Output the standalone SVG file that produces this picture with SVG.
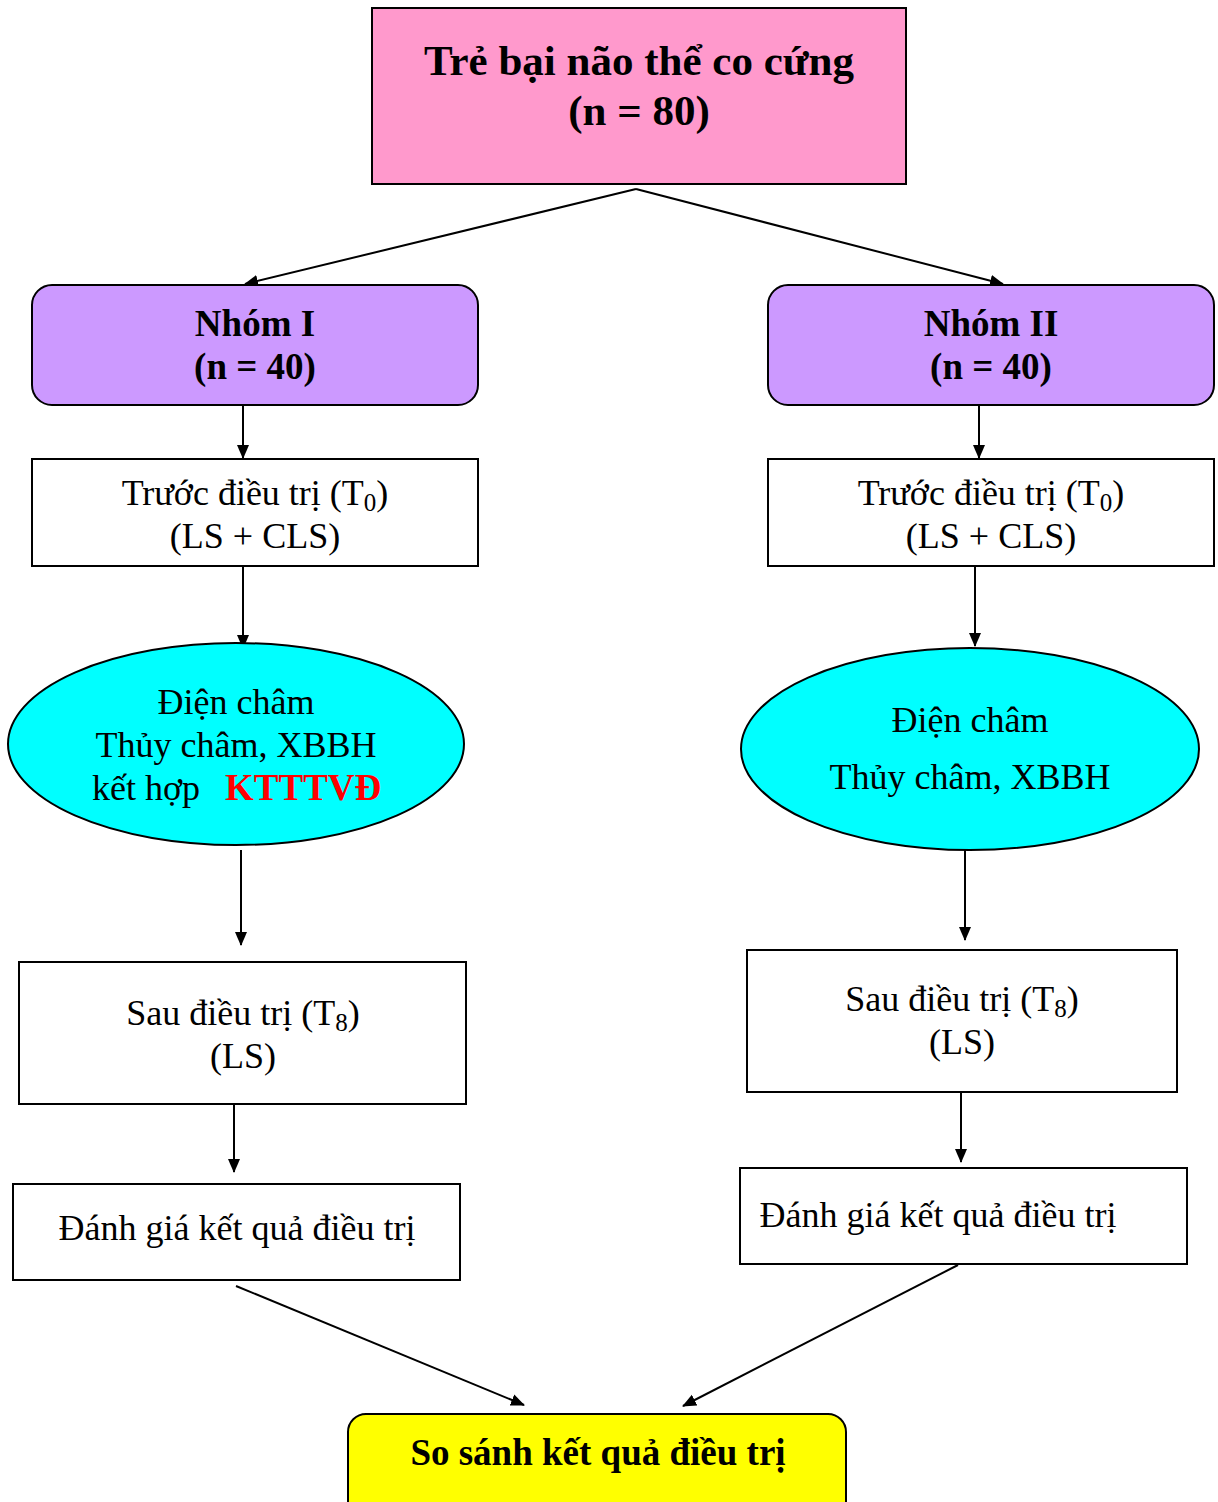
<svg xmlns="http://www.w3.org/2000/svg" width="1218" height="1502" viewBox="0 0 1218 1502">
<defs>
<style>
.box{stroke:#000;stroke-width:2}
.t{font-family:"Liberation Serif","Times New Roman",serif;font-size:36px;text-anchor:middle;fill:#000}
.b{font-weight:bold;font-size:37px}
.big{font-size:43px}
.red{fill:#FF0000}
.sub{font-size:25px}
.ln{stroke:#000;stroke-width:2;fill:none;marker-end:url(#ah)}
</style>
<marker id="ah" viewBox="0 0 14 14" refX="13" refY="7" markerWidth="14" markerHeight="14" markerUnits="userSpaceOnUse" orient="auto">
<path d="M0,1 L14,7 L0,13 z" fill="#000"/>
</marker>
</defs>
<rect width="1218" height="1502" fill="#fff"/>
<g id="connectors">
<path class="ln" d="M636,189 L245,284"/>
<path class="ln" d="M636,189 L1003,284"/>
<path class="ln" d="M243,405 L243,458"/>
<path class="ln" d="M979,405 L979,458"/>
<path class="ln" d="M243,566 L243,648"/>
<path class="ln" d="M975,563 L975,646"/>
<path class="ln" d="M241,850 L241,945"/>
<path class="ln" d="M965,850 L965,940"/>
<path class="ln" d="M234,1100 L234,1172"/>
<path class="ln" d="M961,1090 L961,1162"/>
<path class="ln" d="M236,1286 L524,1405"/>
<path class="ln" d="M958,1265 L683,1406"/>
</g>
<g id="top">
<rect class="box" x="372" y="8" width="534" height="176" fill="#FF99CC"/>
<text class="t b big" x="639" y="75">Trẻ bại não thể co cứng</text>
<text class="t b big" x="639" y="125">(n = 80)</text>
</g>
<g id="nhom1">
<rect class="box" x="32" y="285" width="446" height="120" rx="20" fill="#CC99FF"/>
<text class="t b" x="255" y="336">Nhóm I</text>
<text class="t b" x="255" y="379">(n = 40)</text>
</g>
<g id="nhom2">
<rect class="box" x="768" y="285" width="446" height="120" rx="20" fill="#CC99FF"/>
<text class="t b" x="991" y="336">Nhóm II</text>
<text class="t b" x="991" y="379">(n = 40)</text>
</g>
<g id="truoc1">
<rect class="box" x="32" y="459" width="446" height="107" fill="#fff"/>
<text class="t" x="255" y="505">Trước điều trị (T<tspan class="sub" dy="6">0</tspan><tspan dy="-6">)</tspan></text>
<text class="t" x="255" y="548">(LS + CLS)</text>
</g>
<g id="truoc2">
<rect class="box" x="768" y="459" width="446" height="107" fill="#fff"/>
<text class="t" x="991" y="505">Trước điều trị (T<tspan class="sub" dy="6">0</tspan><tspan dy="-6">)</tspan></text>
<text class="t" x="991" y="548">(LS + CLS)</text>
</g>
<g id="dien1">
<ellipse class="box" cx="236" cy="744" rx="228" ry="101" fill="#00FFFF"/>
<text class="t" x="236" y="714">Điện châm</text>
<text class="t" x="236" y="757">Thủy châm, XBBH</text>
<text class="t" x="92" y="800" style="text-anchor:start">kết hợp</text>
<text class="t b red" x="225" y="800" style="text-anchor:start">KTTTVĐ</text>
</g>
<g id="dien2">
<ellipse class="box" cx="970" cy="749" rx="229" ry="101" fill="#00FFFF"/>
<text class="t" x="970" y="732">Điện châm</text>
<text class="t" x="970" y="789">Thủy châm, XBBH</text>
</g>
<g id="sau1">
<rect class="box" x="19" y="962" width="447" height="142" fill="#fff"/>
<text class="t" x="243" y="1025">Sau điều trị (T<tspan class="sub" dy="6">8</tspan><tspan dy="-6">)</tspan></text>
<text class="t" x="243" y="1068">(LS)</text>
</g>
<g id="sau2">
<rect class="box" x="747" y="950" width="430" height="142" fill="#fff"/>
<text class="t" x="962" y="1011">Sau điều trị (T<tspan class="sub" dy="6">8</tspan><tspan dy="-6">)</tspan></text>
<text class="t" x="962" y="1054">(LS)</text>
</g>
<g id="danhgia1">
<rect class="box" x="13" y="1184" width="447" height="96" fill="#fff"/>
<text class="t" x="237" y="1240">Đánh giá kết quả điều trị</text>
</g>
<g id="danhgia2">
<rect class="box" x="740" y="1168" width="447" height="96" fill="#fff"/>
<text class="t" x="938" y="1227">Đánh giá kết quả điều trị</text>
</g>
<g id="sosanh">
<rect class="box" x="348" y="1414" width="498" height="110" rx="18" fill="#FFFF00"/>
<text class="t b" x="598" y="1465">So sánh kết quả điều trị</text>
</g>
</svg>
